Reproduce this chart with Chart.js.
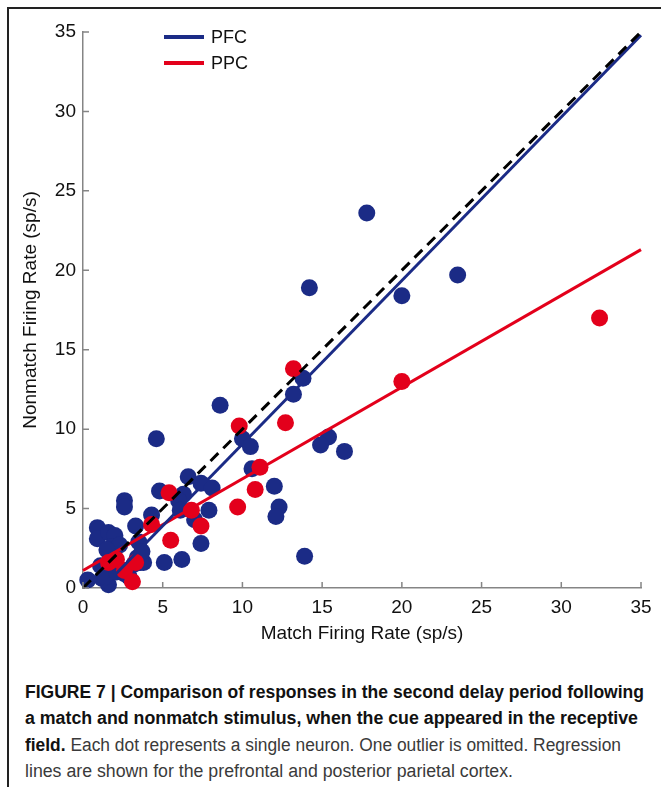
<!DOCTYPE html>
<html>
<head>
<meta charset="utf-8">
<script src="https://cdn.jsdelivr.net/npm/chart.js@4/dist/chart.umd.min.js"></script>
<style>
  html, body { margin: 0; padding: 0; background: #fff; }
  body { width: 661px; height: 787px; position: relative; overflow: hidden; }
  #frame { position: absolute; left: 7px; top: 7px; width: 660px; height: 790px;
           border-top: 2px solid #222; border-left: 2px solid #222; }
  #wrap { position: absolute; left: 0; top: 0; width: 661px; height: 650px; }
  #legend { position: absolute; left: 164px; top: 24px; font-family: "Liberation Sans", Arial, sans-serif;
            font-size: 18px; color: #111; }
  .item { height: 26px; display: flex; align-items: center; }
  .swatch { width: 40px; height: 4px; margin-right: 7px; }
  #caption { position: absolute; left: 25px; top: 679px;
             font-family: "Liberation Sans", Arial, sans-serif;
             font-size: 18px; line-height: 26.3px; color: #3a3a3a; }
  #caption .ln { white-space: nowrap; display: block; width: max-content; transform-origin: 0 50%; }
  #caption b { color: #111; }
</style>
</head>
<body>
<div id="frame"></div>
<div id="wrap"><canvas id="chart" width="661" height="650"></canvas></div>
<div id="legend"></div>
<div id="caption">
  <span class="ln" data-w="619"><b>FIGURE 7 | Comparison of responses in the second delay period following</b></span>
  <span class="ln" data-w="613"><b>a match and nonmatch stimulus, when the cue appeared in the receptive</b></span>
  <span class="ln" data-w="596"><b>field.</b> Each dot represents a single neuron. One outlier is omitted. Regression</span>
  <span class="ln" data-w="488">lines are shown for the prefrontal and posterior parietal cortex.</span>
</div>
<script>
// match rate (x) / nonmatch rate (y)
const pfcX = [17.8, 23.5, 20.0, 14.2, 13.8, 13.2, 8.6, 4.6, 10.0, 10.5, 15.4, 14.9, 16.4, 10.6, 12.0, 12.3, 12.1, 13.9,
  6.6, 7.4, 8.1, 4.8, 6.3, 6.0, 7.9, 7.0, 4.3, 7.4, 5.1, 6.2, 3.8, 2.6, 2.6, 3.3, 3.5, 0.9, 0.9, 1.6, 2.0, 1.8,
  2.3, 1.5, 1.1, 1.2, 0.3, 1.6, 1.4, 2.1, 2.6, 3.2, 3.4, 2.9, 3.6, 3.7, 6.1];
const pfcY = [23.6, 19.7, 18.4, 18.9, 13.2, 12.2, 11.5, 9.4, 9.4, 8.9, 9.5, 9.0, 8.6, 7.5, 6.4, 5.1, 4.5, 2.0,
  7.0, 6.6, 6.3, 6.1, 5.9, 5.5, 4.9, 4.3, 4.6, 2.8, 1.6, 1.8, 1.6, 5.5, 5.1, 3.9, 2.9, 3.8, 3.1, 3.5, 3.3, 2.6,
  2.7, 2.4, 1.4, 0.6, 0.5, 0.2, 0.7, 1.0, 0.9, 1.5, 1.9, 0.7, 1.6, 2.3, 4.9];
const ppcX = [32.4, 20.0, 13.2, 12.7, 9.8, 11.1, 10.8, 9.7, 7.4, 6.8, 5.4, 5.5, 4.3, 2.1, 2.6, 3.3, 3.1, 1.6];
const ppcY = [17.0, 13.0, 13.8, 10.4, 10.2, 7.6, 6.2, 5.1, 3.9, 4.9, 6.0, 3.0, 4.0, 1.8, 1.1, 1.6, 0.4, 1.6];

// regression line end points
const pfcFitX = [1.2, 35];
const pfcFitY = [0, 34.8];
const ppcFitX = [0, 35];
const ppcFitY = [1.1, 21.3];
const unityX = [0, 35];
const unityY = [0, 35];

const seriesNames = ['PFC', 'PPC'];
const ticks = [0, 5, 10, 15, 20, 25, 30, 35];

const BLUE = '#1b2b86';
const RED = '#e3001b';
const FONT = '"Liberation Sans", Arial, sans-serif';

const pts = (xs, ys) => xs.map((x, i) => ({ x: x, y: ys[i] }));

// caption lines are squeezed to the condensed width of the original typeface
document.querySelectorAll('#caption .ln').forEach(function (el) {
  const w = el.getBoundingClientRect().width;
  el.style.transform = `scaleX(${parseFloat(el.dataset.w) / w})`;
});

// legend drawn in html so it can sit inside the plot
const legend = document.getElementById('legend');
[BLUE, RED].forEach(function (c, i) {
  const row = document.createElement('div');
  row.className = 'item';
  row.innerHTML = `<div class="swatch" style="background:${c}"></div><span>${seriesNames[i]}</span>`;
  legend.appendChild(row);
});

// inward tick marks
const innerTicks = {
  id: 'innerTicks',
  afterDatasetsDraw(chart) {
    const ctx = chart.ctx;
    const xs = chart.scales.x, ys = chart.scales.y;
    ctx.save();
    ctx.strokeStyle = '#858585';
    ctx.lineWidth = 1.5;
    ctx.beginPath();
    ticks.forEach(function (t) {
      const px = xs.getPixelForValue(t);
      ctx.moveTo(px, ys.bottom); ctx.lineTo(px, ys.bottom - 6);
      const py = ys.getPixelForValue(t);
      ctx.moveTo(xs.left, py); ctx.lineTo(xs.left + 6, py);
    });
    ctx.stroke();
    ctx.restore();
  }
};

new Chart(document.getElementById('chart'), {
  type: 'scatter',
  data: {
    datasets: [
      { label: 'unity', type: 'line', data: pts(unityX, unityY), borderColor: '#000', borderWidth: 3,
        borderDash: [11, 7], pointRadius: 0, order: 0, clip: false },
      { label: 'PFC fit', type: 'line', data: pts(pfcFitX, pfcFitY), borderColor: BLUE, borderWidth: 3,
        pointRadius: 0, order: 0, clip: false },
      { label: 'PPC fit', type: 'line', data: pts(ppcFitX, ppcFitY), borderColor: RED, borderWidth: 3,
        pointRadius: 0, order: 0, clip: false },
      { label: 'PFC', data: pts(pfcX, pfcY), backgroundColor: BLUE, borderWidth: 0, pointRadius: 8.5,
        order: 2, clip: false },
      { label: 'PPC', data: pts(ppcX, ppcY), backgroundColor: RED, borderWidth: 0, pointRadius: 8.5,
        order: 1, clip: false }
    ]
  },
  options: {
    responsive: false,
    animation: false,
    layout: { padding: { top: 32, right: 20, left: 0, bottom: 0 } },
    plugins: { legend: { display: false }, tooltip: { enabled: false } },
    scales: {
      x: {
        type: 'linear', min: 0, max: 35,
        grid: { display: false, drawTicks: false },
        border: { display: true, color: '#858585', width: 1.5 },
        ticks: { stepSize: 5, padding: 8, color: '#111', font: { family: FONT, size: 19 } },
        title: { display: true, text: 'Match Firing Rate (sp/s)', color: '#111',
                 font: { family: FONT, size: 19 }, padding: { top: 0, bottom: 5 } },
        afterFit(s) { s.height = 62; }
      },
      y: {
        type: 'linear', min: 0, max: 35,
        grid: { display: false, drawTicks: false },
        border: { display: true, color: '#858585', width: 1.5 },
        ticks: { stepSize: 5, padding: 7, color: '#111', font: { family: FONT, size: 19 } },
        title: { display: true, text: 'Nonmatch Firing Rate (sp/s)', color: '#111',
                 font: { family: FONT, size: 19 }, padding: { top: 19, bottom: 0 } },
        afterFit(s) { s.width = 83; }
      }
    }
  },
  plugins: [innerTicks]
});
</script>
</body>
</html>
